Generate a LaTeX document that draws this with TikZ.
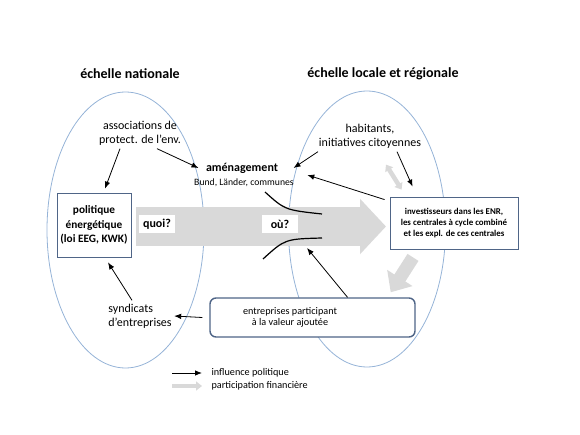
\documentclass[tikz,border=0pt]{standalone}
\usepackage{fontspec}
\setmainfont{Carlito}
\usetikzlibrary{arrows.meta,shapes.geometric}

\definecolor{scaleblue}{RGB}{149,179,215}
\definecolor{boxblue}{RGB}{79,101,135}
\definecolor{moneygray}{RGB}{217,217,217}

\tikzstyle{echelle}=[ellipse,draw=scaleblue,thick,minimum width=157pt,minimum height=276pt,inner sep=0pt]
\tikzstyle{title}=[font=\fontsize{14}{16}\selectfont\bfseries]
\tikzstyle{actor}=[font=\fontsize{12}{14}\selectfont,align=center]
\tikzstyle{box}=[draw=boxblue,thick,fill=white,align=center]
\tikzstyle{question}=[fill=white,font=\fontsize{12}{14}\selectfont\bfseries,minimum width=36pt,minimum height=18pt,inner sep=0pt]
\tikzstyle{edge}=[draw,thick,-{Latex[length=7pt,width=5.5pt]}]
\tikzstyle{money edge}=[draw,moneygray,line width=4.5pt,-{Triangle[length=6pt,width=9pt]}]
\tikzstyle{legend}=[anchor=west,font=\fontsize{10.2}{12}\selectfont]

\begin{document}
\begin{tikzpicture}[x=1pt,y=-1pt]
    \useasboundingbox (0,0) rectangle (580,435);

    % the two scales
    \node[title] (tnat) at (130,74) {échelle nationale};
    \node[title] (tloc) at (383,74) {échelle locale et régionale};
    \node[echelle] (national) at (125.5,230) {};
    \node[echelle] (local) at (367,229) {};

    % big flow from national policy to the local level
    \coordinate (flowtip) at (386,226.5);
    \coordinate (flowstart) at (136,226.5);
    \path[draw,moneygray,line width=39pt,-{Triangle[length=26pt,width=54pt]}] (flowstart) -- (flowtip);
    \node[question] (quoi) at (157,224) {quoi?};
    \node[question] (ou) at (280,224) {où?};
    % funnel
    \draw[line width=1.2pt] (265,192) .. controls (285,210) .. (322,214);
    \draw[line width=1.2pt] (263,259) .. controls (285,239) .. (322,238);

    % actors
    \node[box,minimum width=72pt,minimum height=64pt,font=\fontsize{11.3}{14.5}\selectfont\bfseries] (politique) at (94,225) {politique\\énergétique\\(loi EEG, KWK)};
    \node[actor] (assoc) at (140,133) {associations de\\protect. de l'env.};
    \node[actor,font=\fontsize{12}{14}\selectfont\bfseries] (amenag) at (242,168) {aménagement};
    \node[actor,font=\fontsize{9.7}{11}\selectfont] (bund) at (244,183) {Bund, Länder, communes};
    \node[actor] (habit) at (370,136) {habitants,\\initiatives citoyennes};
    \node[box,minimum width=128pt,minimum height=52pt,font=\fontsize{8.9}{11.2}\selectfont\bfseries] (invest) at (454,223) {investisseurs dans les ENR,\\les centrales à cycle combiné\\et les expl. de ces centrales};
    \node[box,rounded corners=6pt,line width=1.4pt,minimum width=205pt,minimum height=39pt,font=\fontsize{10.2}{11.5}\selectfont] (entrepr) at (312.5,317.5) {entreprises participant\hspace{45pt}\mbox{}\\à la valeur ajoutée\hspace{45pt}\mbox{}};
    \node[actor,align=left] (synd) at (140,316) {syndicats\\d'entreprises};

    % political influence
    \path[edge] ([xshift=-20pt]assoc.south) -- ([xshift=11pt,yshift=4pt]politique.north);
    \path[edge] ([xshift=17pt]assoc.south) -- ([xshift=-4pt]amenag.west);
    \path[edge] ([xshift=-52pt]habit.south) -- ([xshift=12pt]amenag.east);
    \path[edge] ([xshift=27pt]habit.south) -- ([xshift=23pt,yshift=10pt]invest.north west);
    \path[edge] ([xshift=-5pt,yshift=-3pt]invest.north west) -- ([xshift=10pt,yshift=8pt]bund.east);
    \coordinate (funnel) at (307,248);
    \path[edge] ([xshift=35pt]entrepr.north) -- (funnel);
    \path[edge] ([xshift=-7pt]entrepr.west) -- ([xshift=-1pt]synd.east);
    \path[edge] ([xshift=-8pt]synd.north) -- ([xshift=14pt,yshift=-5pt]politique.south);

    % financial participation
    \path[money edge,{Triangle[length=6pt,width=9pt]}-{Triangle[length=6pt,width=9pt]}] ([xshift=16pt,yshift=-13pt]habit.south) -- ([xshift=12pt,yshift=7pt]invest.north west);
    \path[money edge,line width=13pt,-{Triangle[length=17pt,width=29pt]}] ([xshift=-41pt,yshift=-8pt]invest.south) -- ([xshift=-25pt,yshift=5pt]entrepr.north east);

    % legend
    \coordinate (lega) at (172,373);
    \coordinate (legb) at (202,373);
    \coordinate (legc) at (172,386);
    \coordinate (legd) at (202,386);
    \path[edge] (lega) -- (legb);
    \path[money edge] (legc) -- (legd);
    \node[legend] (legpol) at (208,373) {influence politique};
    \node[legend] (legfin) at (208,386) {participation financière};
\end{tikzpicture}
\end{document}
